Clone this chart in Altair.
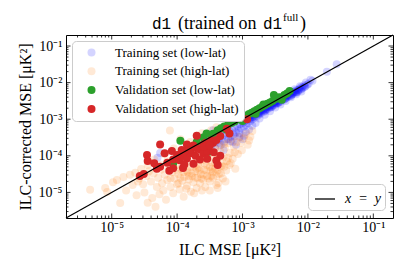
import altair as alt
import pandas as pd

# ---------------- data (log10 of MSE values) ----------------
set_names = ["Training set (low-lat)", "Training set (high-lat)",
             "Validation set (low-lat)", "Validation set (high-lat)"]
set_colors = ["rgba(0,0,255,0.17)", "rgba(255,127,14,0.17)", "#2ca02c", "#d62728"]

# [log10 ILC MSE, log10 ILC-corrected MSE]
train_low = [
    [-1.56,-1.50],[-1.71,-1.70],[-1.93,-1.95],[-1.96,-1.92],[-1.99,-2.03],[-2.01,-2.06],[-2.03,-2.00],
    [-2.04,-2.10],[-2.06,-2.07],[-2.08,-2.14],[-2.10,-2.12],[-2.11,-2.19],[-2.13,-2.16],[-2.15,-2.22],
    [-2.17,-2.20],[-2.18,-2.27],[-2.20,-2.24],[-2.22,-2.30],[-2.23,-2.27],[-2.25,-2.33],[-2.27,-2.30],
    [-2.28,-2.37],[-2.30,-2.34],[-2.32,-2.41],[-2.33,-2.38],[-2.35,-2.44],[-2.37,-2.40],[-2.38,-2.47],
    [-2.40,-2.45],[-2.42,-2.52],[-2.43,-2.48],[-2.45,-2.55],[-2.47,-2.51],[-2.48,-2.58],[-2.50,-2.55],
    [-2.52,-2.62],[-2.53,-2.58],[-2.55,-2.66],[-2.57,-2.62],[-2.58,-2.69],[-2.60,-2.65],[-2.62,-2.73],
    [-2.63,-2.69],[-2.65,-2.77],[-2.67,-2.72],[-2.68,-2.80],[-2.70,-2.76],[-2.72,-2.84],[-2.73,-2.79],
    [-2.75,-2.88],[-2.77,-2.83],[-2.78,-2.92],[-2.80,-2.86],[-2.82,-2.96],[-2.83,-2.90],[-2.85,-3.00],
    [-2.87,-2.94],[-2.88,-3.05],[-2.90,-2.98],[-2.92,-3.10],[-2.93,-3.02],[-2.95,-3.15],[-2.97,-3.06],
    [-2.98,-3.20],[-3.00,-3.10],[-3.02,-3.25],[-3.04,-3.14],[-3.06,-3.30],[-3.08,-3.18],[-3.10,-3.36],
    [-3.12,-3.22],[-3.14,-3.42],[-3.16,-3.28],[-3.18,-3.48],[-3.20,-3.33],[-3.22,-3.55],[-3.25,-3.40],
    [-3.28,-3.62],[-3.30,-3.45],[-3.33,-3.70],[-3.35,-3.50],[-3.38,-3.58],[-3.40,-3.42],[-3.43,-3.65],
    [-3.45,-3.50],[-3.48,-3.75],[-3.50,-3.55],[-3.55,-3.62],[-3.58,-3.48],[-3.62,-3.70],[-3.68,-3.58],
    [-3.75,-3.78],[-3.85,-3.72],[-4.26,-3.92],[-4.30,-4.05],[-3.29,-3.84],[-3.15,-3.62],[-3.05,-3.50],
    [-2.95,-3.35],[-2.90,-3.28],[-2.85,-3.18],[-2.80,-3.10],[-2.74,-2.98],[-2.66,-2.88],[-2.58,-2.78],
    [-2.50,-2.68],[-2.42,-2.60],[-2.34,-2.50],[-2.26,-2.40],[-2.18,-2.32],[-2.10,-2.24],[-2.30,-2.28],
    [-2.40,-2.40],[-2.50,-2.50],[-2.60,-2.60],[-2.70,-2.70],[-2.80,-2.80],[-2.90,-2.90],[-3.00,-3.00],
    [-2.35,-2.36],[-2.45,-2.46],[-2.55,-2.57],[-2.65,-2.67],[-2.75,-2.78],[-2.85,-2.88],[-2.20,-2.18],
    [-2.12,-2.10],[-2.05,-2.12],[-2.09,-2.16],[-2.14,-2.20],[-2.19,-2.26],[-2.24,-2.31],[-2.29,-2.36],
    [-2.34,-2.42],[-2.39,-2.46],[-2.44,-2.52],[-2.49,-2.57],[-2.54,-2.62],[-2.59,-2.67],[-2.64,-2.72],
    [-2.69,-2.77],[-2.74,-2.82],[-2.79,-2.87],[-2.84,-2.93],[-2.89,-2.99],[-2.16,-2.26],[-2.26,-2.36],
    [-2.36,-2.46],[-2.46,-2.56],[-2.56,-2.66],[-2.66,-2.76],[-2.76,-2.86],[-2.86,-2.96],[-2.21,-2.24],
    [-2.31,-2.33],[-2.41,-2.43],[-2.51,-2.53],[-2.61,-2.63],[-2.71,-2.73],[-2.81,-2.84],[-2.91,-2.95],
    [-3.45,-3.30],[-3.38,-3.35],[-3.30,-3.30],[-3.25,-3.55],[-3.18,-3.60],[-3.12,-3.48],[-3.05,-3.38],
    [-2.98,-3.45],[-3.35,-3.65],[-3.42,-3.78],[-3.10,-3.70],[-3.00,-3.55],
]
train_high = [
    [-5.33,-4.93],[-5.10,-4.88],[-5.07,-4.99],[-4.98,-4.72],[-4.92,-4.66],[-4.87,-5.29],[-4.82,-4.58],
    [-4.78,-4.95],[-4.72,-4.52],[-4.68,-4.80],[-4.64,-4.46],[-4.62,-5.08],[-4.58,-4.62],[-4.55,-4.36],
    [-4.52,-4.78],[-4.50,-5.00],[-4.47,-4.55],[-4.45,-5.28],[-4.43,-4.42],[-4.40,-4.70],[-4.38,-5.15],
    [-4.36,-4.48],[-4.33,-5.39],[-4.31,-4.85],[-4.29,-4.60],[-4.27,-5.05],[-4.25,-4.38],[-4.23,-4.75],
    [-4.21,-4.95],[-4.19,-4.52],[-4.17,-5.20],[-4.15,-4.66],[-4.13,-4.30],[-4.11,-3.31],[-4.10,-4.85],
    [-4.08,-4.45],[-4.06,-5.02],[-4.04,-4.62],[-4.02,-4.25],[-4.00,-4.78],[-3.98,-4.50],[-3.96,-4.92],
    [-3.94,-4.35],[-3.92,-4.68],[-3.90,-5.12],[-3.89,-4.58],[-3.87,-4.22],[-3.85,-4.82],[-3.84,-4.45],
    [-3.82,-4.65],[-3.80,-4.30],[-3.79,-4.98],[-3.77,-4.55],[-3.75,-4.72],[-3.74,-4.18],[-3.72,-4.42],
    [-3.70,-4.88],[-3.69,-4.60],[-3.67,-4.32],[-3.65,-4.75],[-3.64,-4.50],[-3.62,-4.12],[-3.60,-4.65],
    [-3.59,-4.38],[-3.57,-4.85],[-3.55,-4.25],[-3.54,-4.55],[-3.52,-4.05],[-3.50,-4.70],[-3.49,-4.42],
    [-3.47,-4.18],[-3.45,-4.60],[-3.44,-3.95],[-3.42,-4.35],[-3.40,-4.80],[-3.39,-4.10],[-3.37,-4.74],
    [-3.36,-4.50],[-3.34,-3.88],[-3.32,-4.28],[-3.30,-4.62],[-3.29,-4.02],[-3.27,-3.78],[-3.25,-4.40],
    [-3.24,-4.15],[-3.22,-3.65],[-3.20,-4.25],[-3.19,-3.92],[-3.17,-3.55],[-3.15,-4.08],[-3.13,-3.75],
    [-3.11,-4.35],[-3.09,-3.62],[-3.07,-3.95],[-3.05,-3.48],[-3.03,-3.65],[-3.01,-3.85],[-2.98,-3.52],
    [-2.95,-3.40],[-2.92,-3.70],[-2.88,-3.48],[-2.85,-3.32],[-2.90,-3.58],[-3.95,-3.55],[-3.80,-3.62],
    [-3.70,-3.45],[-3.62,-3.38],[-3.55,-3.52],[-3.48,-3.30],[-4.20,-3.95],[-4.35,-4.10],[-4.05,-3.80],
    [-3.40,-3.22],[-3.85,-4.40],[-3.78,-4.48],[-3.72,-4.60],[-3.66,-4.40],[-3.60,-4.52],[-3.55,-4.40],
    [-3.50,-4.30],[-3.45,-4.45],[-3.40,-4.55],[-3.35,-4.30],[-3.30,-4.20],[-3.75,-4.30],[-3.68,-4.22],
    [-3.58,-4.20],[-3.48,-4.55],[-3.42,-4.20],[-3.90,-4.45],[-3.95,-4.60],[-4.00,-4.40],[-3.82,-4.55],
    [-3.70,-4.35],[-3.63,-4.62],[-3.52,-4.62],[-3.46,-4.35],[-3.38,-4.40],[-3.33,-4.48],[-3.28,-4.30],
    [-3.22,-4.05],[-3.18,-4.20],[-3.12,-3.90],[-3.65,-4.05],[-3.58,-3.95],[-3.50,-3.85],[-3.42,-3.80],
    [-3.35,-3.72],[-3.28,-3.68],[-3.85,-4.05],[-3.78,-3.90],[-4.15,-4.15],[-4.25,-4.25],[-4.45,-4.25],
    [-4.60,-4.70],[-4.10,-4.62],[-3.98,-4.75],[-3.86,-4.90],[-3.74,-5.02],[-3.62,-4.95],[-3.50,-4.95],
    [-3.38,-4.88],[-3.26,-4.70],
]
val_low = [
    [-4.06,-4.20],[-3.95,-3.59],[-3.80,-3.75],[-3.70,-3.62],[-3.60,-3.50],[-3.55,-3.39],[-3.52,-3.89],
    [-3.45,-3.40],[-3.38,-3.30],[-3.33,-3.25],[-3.28,-3.20],[-3.22,-3.15],[-3.17,-3.10],[-3.12,-3.06],
    [-3.08,-3.00],[-3.03,-2.97],[-2.98,-2.93],[-2.94,-2.90],[-2.90,-2.86],[-2.86,-2.82],[-2.82,-2.78],
    [-2.78,-2.74],[-2.74,-2.70],[-2.70,-2.66],[-2.66,-2.62],[-2.62,-2.58],[-2.58,-2.54],[-2.54,-2.50],
    [-2.52,-2.34],[-2.48,-2.44],[-2.44,-2.40],[-2.40,-2.47],[-2.36,-2.34],[-2.32,-2.30],[-2.28,-2.23],
    [-3.25,-3.28],[-3.00,-3.05],[-2.80,-2.85],[-3.48,-3.55],[-2.68,-2.60],[-3.15,-3.00],
]
val_high = [
    [-2.93,-3.00],[-3.20,-3.39],[-3.34,-3.46],[-3.70,-3.45],[-3.56,-3.64],[-3.45,-3.64],[-4.26,-3.69],
    [-3.85,-3.69],[-3.75,-3.72],[-4.46,-3.98],[-4.45,-4.14],[-4.19,-3.93],[-4.08,-3.87],[-3.93,-3.84],
    [-3.80,-3.84],[-3.65,-3.82],[-3.60,-3.93],[-3.54,-3.88],[-3.80,-3.93],[-3.72,-4.00],[-3.44,-3.90],
    [-3.34,-4.00],[-3.93,-4.00],[-4.06,-4.10],[-3.96,-4.12],[-3.85,-4.07],[-3.65,-4.10],[-3.54,-4.08],
    [-3.40,-4.13],[-3.38,-4.25],[-3.75,-4.22],[-3.91,-4.33],[-4.06,-4.34],[-4.12,-4.41],[-4.26,-4.30],
    [-4.31,-4.35],[-4.51,-4.50],[-4.57,-4.55],[-4.15,-4.19],[-3.89,-4.24],[-3.48,-3.58],[-3.60,-3.70],
    [-4.00,-3.98],[-3.89,-3.89],[-3.70,-3.80],[-3.59,-3.75],[-3.40,-3.57],[-3.24,-3.26],[-4.35,-4.20],
    [-3.50,-3.72],
]

axis_limits = [2e-6, 0.2]
major_ticks = [1e-5, 1e-4, 1e-3, 1e-2, 1e-1]
minor_ticks = [m * 10.0 ** k for k in range(-6, 0) for m in range(2, 10)
               if axis_limits[0] < m * 10.0 ** k < axis_limits[1]]
diag_label = "x\u2002=\u2002y"

# ---------------- build tables ----------------
rows = []
for name, pts in zip(set_names, [train_low, train_high, val_low, val_high]):
    for lx, ly in pts:
        rows.append({"x": 10 ** lx, "y": 10 ** ly, "set": name})
df = pd.DataFrame(rows)
diag_df = pd.DataFrame({"x": axis_limits, "y": axis_limits, "lbl": [diag_label] * 2})

W, H = 327, 183
SERIF = "Liberation Serif"
xs = alt.Scale(type="log", domain=axis_limits, nice=False)
ys = alt.Scale(type="log", domain=axis_limits, nice=False)
lab = ("datum.value < 3e-5 ? '10⁻⁵' : datum.value < 3e-4 ? '10⁻⁴' : "
       "datum.value < 3e-3 ? '10⁻³' : datum.value < 3e-2 ? '10⁻²' : '10⁻¹'")
x_axis = alt.Axis(title="ILC MSE [μK²]", values=major_ticks, labelExpr=lab, ticks=False,
                  domain=False, grid=False, labelFont=SERIF, labelFontSize=14, labelColor="black",
                  labelPadding=2, titleFont=SERIF, titleFontSize=16, titleFontWeight="normal",
                  titleColor="black", titlePadding=7)
y_axis = alt.Axis(title="ILC-corrected MSE [μK²]", values=major_ticks, labelExpr=lab, ticks=False,
                  domain=False, grid=False, labelFont=SERIF, labelFontSize=14, labelColor="black",
                  labelPadding=4, titleFont=SERIF, titleFontSize=16, titleFontWeight="normal",
                  titleColor="black", titlePadding=5)

points = alt.Chart(df).mark_circle(size=64, opacity=1, strokeWidth=0).encode(
    x=alt.X("x:Q", scale=xs, axis=x_axis),
    y=alt.Y("y:Q", scale=ys, axis=y_axis),
    color=alt.Color("set:N", scale=alt.Scale(domain=set_names, range=set_colors),
                    legend=alt.Legend(title=None, orient="top-left", offset=6, padding=5,
                                      fillColor="white", strokeColor="#cccccc", cornerRadius=4,
                                      labelFont=SERIF, labelFontSize=13, labelColor="black",
                                      symbolSize=64, symbolOffset=8, labelOffset=17,
                                      rowPadding=4.8, symbolStrokeWidth=0, symbolType="circle",
                                      labelExpr="datum.label + '\u00a0\u00a0\u00a0\u00a0\u00a0'")),
)

diag = alt.Chart(diag_df).mark_line(strokeWidth=1.2).encode(
    x=alt.X("x:Q", scale=xs, axis=x_axis),
    y=alt.Y("y:Q", scale=ys, axis=y_axis),
    stroke=alt.Stroke("lbl:N", scale=alt.Scale(range=["black"]),
                      legend=alt.Legend(title=None, orient="bottom-right", offset=8, padding=4,
                                        fillColor="white", strokeColor="#cccccc", cornerRadius=4,
                                        labelFont=SERIF, labelFontSize=14, labelFontStyle="italic",
                                        labelColor="black", symbolType="stroke", symbolSize=400,
                                        symbolStrokeWidth=1.3, symbolOffset=2, labelOffset=9,
                                        labelExpr="datum.label + '\u00a0'")),
)


def xticks(vals, length, top):
    y0, y1 = (0, length) if top else (H, H - length)
    return alt.Chart(pd.DataFrame({"t": vals})).mark_rule(color="black", strokeWidth=0.8).encode(
        x=alt.X("t:Q", scale=xs, axis=x_axis), y=alt.value(y0), y2=alt.value(y1))


def yticks(vals, length, right):
    x0, x1 = (W, W - length) if right else (0, length)
    return alt.Chart(pd.DataFrame({"t": vals})).mark_rule(color="black", strokeWidth=0.8).encode(
        y=alt.Y("t:Q", scale=ys, axis=y_axis), x=alt.value(x0), x2=alt.value(x1))


tick_layers = []
for top in (False, True):
    tick_layers += [xticks(major_ticks, 4.5, top), xticks(minor_ticks, 2.5, top)]
for right in (False, True):
    tick_layers += [yticks(major_ticks, 4.5, right), yticks(minor_ticks, 2.5, right)]

one = pd.DataFrame({"a": [0]})


def title_part(txt, xpos, ypos, font, size):
    return alt.Chart(one).mark_text(font=font, fontSize=size, align="left",
                                    baseline="alphabetic", color="black").encode(
        x=alt.value(xpos), y=alt.value(ypos), text=alt.value(txt))


title_layers = [
    title_part("d1", 86, -6, "Liberation Mono", 16),
    title_part("(trained on", 112, -6, SERIF, 18),
    title_part("d1", 197, -6, "Liberation Mono", 16),
    title_part("full", 217, -14, SERIF, 11),
    title_part(")", 234, -6, SERIF, 18),
]

chart = alt.layer(points, diag, *tick_layers, *title_layers).properties(
    width=W, height=H,
    autosize=alt.AutoSizeParams(type="none"),
    padding={"left": 58, "top": 27, "right": 6, "bottom": 45},
).configure_view(stroke="black", strokeWidth=1)

chart.save("out.html", embed_options={"renderer": "svg", "actions": False})
